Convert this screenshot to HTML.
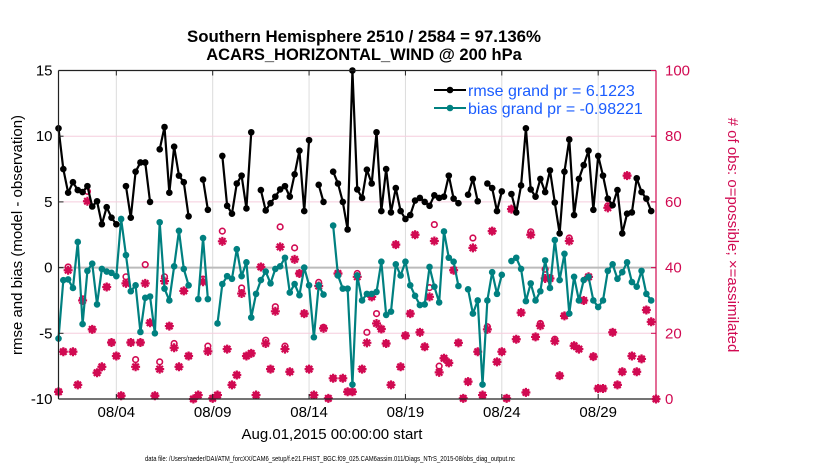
<!DOCTYPE html>
<html><head><meta charset="utf-8"><style>
body{margin:0;background:#fff;}
svg{display:block;font-family:"Liberation Sans",Arial,sans-serif;}
</style></head><body>
<svg id="chart" width="830" height="470" viewBox="0 0 830 470" xmlns="http://www.w3.org/2000/svg">
<g id="grid"></g>
<g id="marks"></g>
<g id="axes"></g>
<text x="364" y="42" text-anchor="middle" font-size="16.5" font-weight="bold" textLength="354" lengthAdjust="spacingAndGlyphs">Southern Hemisphere 2510 / 2584 = 97.136%</text>
<text x="364" y="60" text-anchor="middle" font-size="16.5" font-weight="bold">ACARS_HORIZONTAL_WIND @ 200 hPa</text>
<text transform="translate(22,235) rotate(-90)" text-anchor="middle" font-size="15">rmse and bias (model - observation)</text>
<text transform="translate(728,235) rotate(90)" text-anchor="middle" font-size="15" fill="#d10a52"># of obs: o=possible; ×=assimilated</text>
<text x="332" y="439" text-anchor="middle" font-size="15">Aug.01,2015 00:00:00 start</text>
<text x="330" y="461" text-anchor="middle" font-size="7.5" textLength="370" lengthAdjust="spacingAndGlyphs">data file: /Users/raeder/DAI/ATM_forcXX/CAM6_setup/f.e21.FHIST_BGC.f09_025.CAM6assim.011/Diags_NTrS_2015-08/obs_diag_output.nc</text>
<g>
<g>
<line x1="434" y1="90" x2="466" y2="90" stroke="#000" stroke-width="2"/><circle cx="450" cy="90" r="3.3" fill="#000"/>
<text x="468" y="96" font-size="16" fill="#1a5cff">rmse grand pr = 6.1223</text></g>
<g>
<line x1="434" y1="108" x2="466" y2="108" stroke="#008080" stroke-width="2"/><circle cx="450" cy="108" r="3.3" fill="#008080"/>
<text x="468" y="114" font-size="16" fill="#1a5cff">bias grand pr = -0.98221</text></g>
</g>
</svg>
<script>
const rmse=[10.6,7.5,5.7,6.5,5.9,5.75,6.2,4.65,5.05,3.3,4.6,3.8,3.3,null,6.2,3.8,7.3,8.0,8.0,5.0,null,9.0,10.7,5.7,9.2,7.0,6.5,3.9,null,null,6.7,4.4,null,null,8.5,4.7,4.1,6.4,7.0,4.5,10.3,null,5.9,4.35,4.9,5.4,5.95,6.2,5.4,7.1,8.9,4.3,9.7,null,6.3,5.0,null,7.3,6.4,5.0,2.9,15,5.95,5.3,7.45,6.4,10.3,4.3,7.5,4.2,6.05,4.3,3.7,4.0,5.1,5.3,5.0,4.7,5.5,5.3,5.4,7.0,5.25,4.9,null,5.55,6.75,5.05,null,6.4,6.05,4.3,5.8,null,5.6,4.2,6.25,10.6,5.95,5.4,6.75,5.75,7.4,4.95,2.6,7.3,9.75,4.0,6.75,7.8,8.9,4.4,8.5,7.0,5.25,4.75,5.9,2.6,4.1,4.2,6.8,5.75,5.25,4.3,null];
const bias=[-5.4,-0.96,-0.9,-1.55,1.95,-4.3,-0.25,0.3,-2.8,-0.1,-0.3,-0.4,-0.65,3.7,0.95,-1.8,-1.35,-4.9,-2.3,-2.2,-5.0,3.45,-1.6,-2.5,0.1,2.8,-0.1,-1.35,null,-2.4,2.25,-2.4,null,-4.25,-1.25,-0.65,-0.85,1.4,-0.65,0.4,-3.8,-2.0,-0.95,-0.3,-1.2,-0.1,0.1,0.75,-1.9,-1.25,-2.1,0,-1.35,-5.3,-1.35,-2.05,null,3.2,-0.6,-1.6,-1.6,-8.9,-0.6,-2.5,-2.0,-2.0,-1.85,0.45,-3.6,-3.35,0.25,-0.6,0.45,-1.35,-2.15,-2.85,-2.8,0.05,-1.45,-2.65,2.75,0.75,0.45,-1.4,null,-1.65,-3.5,-2.5,-8.9,-2.5,-0.35,-2.0,-0.55,null,0.5,0.75,-0.1,-2.55,-1.2,-2.5,-1.8,0.55,-1.55,2.1,-0.95,1.05,-3.5,-0.7,-2.5,-0.95,-0.7,-2.5,-3.0,-2.5,-0.25,0.25,-0.85,-0.35,0.4,-1.1,-1.45,-0.25,-2.0,-2.5,null];
const nAssim=[2.2,14.4,39.2,14.4,4.3,30,60.2,21.2,8,9.8,34.1,17.2,13.1,1,35.2,17.2,9.8,17.2,35.2,23.2,1,9.1,35.9,22.2,15.6,9.8,32.9,13.1,0,1.2,35.7,14.5,0.2,1.2,48,15.2,4.3,7.3,32.1,13.1,13.9,1.2,40.2,16.9,9.1,26.7,46.3,15.2,8.3,42.5,38.2,26,9.1,1.2,34.4,21.5,0.2,6.3,38.2,6.3,2.2,2.2,37.2,9.1,17.1,31.1,23,21.3,16.9,4.3,47,9.8,19.3,26,50,20.3,15.9,31.1,48.1,8.1,12.4,11,39.2,17.1,0.2,5.3,46,14.4,1.2,21.2,51.1,11.3,14.4,0.2,57.8,18.2,26.3,2,50,18.9,22.3,36.7,36.7,17.6,7.1,25.3,48.1,16.2,15.2,30,37.2,12.9,3.2,3.2,58.2,20.3,4.3,8.3,68,13.1,8.3,12.2,27.1,23.5,0];
const nPoss=[2.2,14.4,40.2,14.4,4.3,30.5,63.2,21.2,8,9.8,34.1,17.2,13.1,1,37.2,17.2,12,17.2,40.9,23.2,1,11.3,37.2,22.2,16.9,9.8,32.9,13.1,0,1.2,36.5,16.1,0.2,1.2,51.1,15.2,4.3,7.3,33.8,13.1,13.9,1.2,40.2,17.9,9.1,28.1,52.4,16.1,8.3,46,38.2,26,9.1,1.2,35.5,21.8,0.2,6.3,38.2,6.3,2.2,2.2,38.2,9.1,20.3,31.1,26,21.3,16.9,4.3,47,9.8,19.3,26,50,20.3,15.9,33.9,53.1,10,12.4,11,39.2,17.1,0.2,5.3,49,14.4,1.2,22,51.1,11.3,14.4,0.2,57.8,18.2,26.3,2,50.9,18.9,23,39.5,36.7,18.2,7.1,25.3,49,16.2,15.2,30,37.2,12.9,3.2,3.2,58.8,20.3,4.3,8.3,68,13.1,8.3,12.2,27.1,23.5,0];
const xTickDays=[3,8,13,18,23,28];
const xTickLabels=["08/04","08/09","08/14","08/19","08/24","08/29"];
const yTicks=[-10,-5,0,5,10,15];
const rTicks=[0,20,40,60,80,100];

const L=58.5,R=656,T=70.5,B=399;
const NS="http://www.w3.org/2000/svg";
function xk(k){return L+k*(R-L)/124;}
function xd(d){return xk(d*4);}
function yl(v){return B-(v+10)*(B-T)/25;}
function yr(v){return B-v*(B-T)/100;}
function mk(tag,attrs,parent){const e=document.createElementNS(NS,tag);for(const a in attrs)e.setAttribute(a,attrs[a]);parent.appendChild(e);return e;}
const grid=document.getElementById('grid'),marks=document.getElementById('marks'),axes=document.getElementById('axes');
const MAG="#d10a52";

xTickDays.forEach((d,i)=>{
  const g=mk('line',{x1:xd(d),x2:xd(d),y1:T,y2:B,stroke:'#dcdcdc','stroke-width':1},grid);
  
  
  const t=mk('text',{x:xd(d),y:B+18,'text-anchor':'middle','font-size':15},axes);
  t.textContent=xTickLabels[i];
  
  
  mk('line',{x1:xd(d),x2:xd(d),y1:B,y2:B-5,stroke:'#222'},axes);
  mk('line',{x1:xd(d),x2:xd(d),y1:T,y2:T+5,stroke:'#222'},axes);
});
rTicks.forEach(v=>{
  if(v===0||v===100)return;
  const g=mk('line',{x1:L,x2:R,y1:yr(v),y2:yr(v),stroke:v===40?'#bbbbbb':'#f5cddd','stroke-width':v===40?2:1},grid);
  
  
});
function drawLine(vals,color,name){
  let seg=[];const segs=[];
  vals.forEach((v,k)=>{if(v===null){if(seg.length)segs.push(seg);seg=[];}else seg.push([xk(k),yl(v)]);});
  if(seg.length)segs.push(seg);
  segs.forEach(s=>{
    const p=mk('polyline',{points:s.map(q=>q.join(',')).join(' '),fill:'none',stroke:color,'stroke-width':2.2,'stroke-linejoin':'round'},marks);
    
    
  });
  vals.forEach((v,k)=>{if(v===null)return;
    const c=mk('circle',{cx:xk(k),cy:yl(v),r:3.3,fill:color},marks);
    
    
  });
}
nPoss.forEach((v,k)=>{
  const c=mk('circle',{cx:xk(k),cy:yr(v),r:2.8,fill:'none',stroke:MAG,'stroke-width':1.6},marks);
  
  
});
nAssim.forEach((v,k)=>{
  const x=xk(k),y=yr(v);
  const g=mk('path',{d:`M${x-4.5},${y}H${x+4.5}M${x},${y-4.5}V${y+4.5}M${x-3.2},${y-3.2}L${x+3.2},${y+3.2}M${x-3.2},${y+3.2}L${x+3.2},${y-3.2}`,stroke:MAG,'stroke-width':2.2},marks);
  
  
});
drawLine(bias,'#008080','bias');
drawLine(rmse,'#000000','rmse');

mk('line',{x1:L,x2:R,y1:T,y2:T,stroke:'#222','stroke-width':1.2},axes);
mk('line',{x1:L,x2:R,y1:B,y2:B,stroke:'#222','stroke-width':1.2},axes);
mk('line',{x1:L,x2:L,y1:T,y2:B,stroke:'#222','stroke-width':1.2},axes);
mk('line',{x1:R,x2:R,y1:T,y2:B,stroke:MAG,'stroke-width':1.2},axes);
yTicks.forEach(v=>{
  mk('line',{x1:L,x2:L+5,y1:yl(v),y2:yl(v),stroke:'#222'},axes);
  const t=mk('text',{x:L-6,y:yl(v)+5,'text-anchor':'end','font-size':15},axes);
  t.textContent=v;
  
  
});
rTicks.forEach(v=>{
  mk('line',{x1:R,x2:R-5,y1:yr(v),y2:yr(v),stroke:MAG},axes);
  const t=mk('text',{x:R+9,y:yr(v)+5,'font-size':15,fill:MAG},axes);
  t.textContent=v;
  
  
});
</script>
</body></html>
